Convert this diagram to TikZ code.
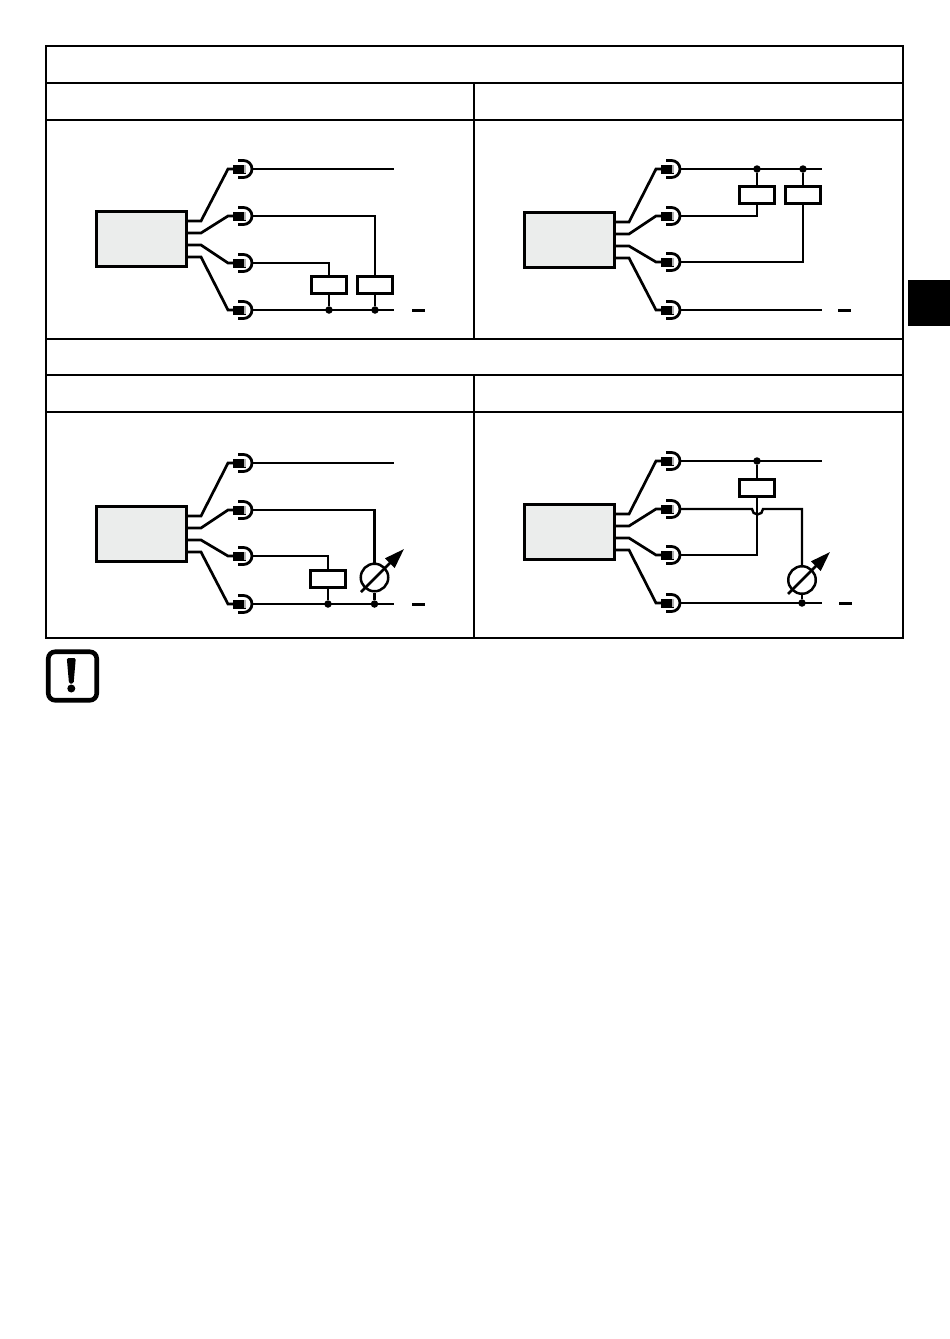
\documentclass[tikz,border=0pt]{standalone}
\usepackage{tikz}
\usetikzlibrary{positioning, arrows.meta}
\definecolor{boxgray}{HTML}{EBEDEC}

\begin{document}
\begin{tikzpicture}[x=1pt,y=-1pt,node distance=6pt,line join=miter]
    \tikzset{
        frame/.style={draw=black,line width=2.2pt},
        wire/.style={draw=black,line width=2.4pt},
        lead/.style={draw=black,line width=2.7pt},
        cup/.style={draw=black,line width=2.8pt},
        sensor/.style={draw=black,fill=boxgray,line width=3.3pt,minimum width=90pt,minimum height=54.5pt,inner sep=0pt},
        plug/.style={fill=black,minimum width=13pt,minimum height=9pt,inner sep=0pt},
        relay/.style={draw=black,fill=white,line width=3pt,minimum width=35pt,minimum height=17pt,inner sep=0pt},
        meter/.style={draw=black,fill=white,circle,line width=2.5pt,minimum size=27.5pt,inner sep=0pt},
        dot/.style={fill=black,circle,minimum size=7.5pt,inner sep=0pt},
        minus/.style={fill=black,minimum width=13pt,minimum height=3pt,inner sep=0pt},
        needle/.style={draw=black,line width=2.5pt,-{Triangle[length=20pt,width=13pt]}}
    }
    \useasboundingbox (0,0) rectangle (950,1339);

    % table and side tab
    \draw[frame] (46,46) rectangle (903,638);
    \draw[frame] (46,83) -- (903,83) (46,120) -- (903,120) (46,339) -- (903,339)
        (46,375) -- (903,375) (46,412) -- (903,412)
        (474,83) -- (474,339) (474,375) -- (474,638);
    \fill[black] (908,280) rectangle (950,326);

    % sensor, leads and plugs of each panel
    \foreach \pn/\sx/\by/\ya/\yb/\yc/\yd in {p1/96/211/169/216/263/310,p2/524/212/169/216/262/310,
            p3/96/506/463/510/556/604,p4/524/504/461/509/555/603}{
        \node[sensor] (\pn-box) at (\sx+45.5,\by+28) {};
        \foreach \i/\off/\py in {a/10/\ya,b/22/\yb,c/34/\yc,d/46/\yd}{
            \node[plug] (\pn-\i) at (\sx+143.5,\py) {};
            \fill[gray!60] (\sx+148,\py-4) rectangle (\sx+150,\py+4);
            \coordinate[right=of \pn-\i] (\pn-\i-out);
            \coordinate (\pn-\i-k) at (\sx+105,\by+\off);
            \coordinate (\pn-\i-j) at (\sx+132,\py);
            \draw[lead] (\pn-box.east |- \pn-\i-k) -- (\pn-\i-k) -- (\pn-\i-j) -- (\pn-\i);
            \draw[cup] (\sx+142,\py-8.5) -- (\sx+147.5,\py-8.5) arc[start angle=-90,end angle=90,radius=8.5] -- (\sx+142,\py+8.5);
        }
    }

    % panel 1
    \node[relay] (p1-r1) at (329,285) {};
    \node[relay] (p1-r2) at (375,285) {};
    \node[dot]   (p1-n1) at (329,310) {};
    \node[dot]   (p1-n2) at (375,310) {};
    \coordinate  (p1-e1) at (394,169);
    \coordinate  (p1-e2) at (394,310);
    \node[minus] (p1-m)  at (418,310) {};
    \draw[wire] (p1-a-out) -- (p1-e1);
    \draw[wire] (p1-d-out) -- (p1-e2);
    \draw[wire] (p1-b-out) -- (p1-b-out -| p1-r2) -- (p1-r2.north);
    \draw[wire] (p1-c-out) -- (p1-c-out -| p1-r1) -- (p1-r1.north);
    \draw[wire] (p1-r1.south) -- (p1-n1);
    \draw[wire] (p1-r2.south) -- (p1-n2);

    % panel 2
    \node[relay] (p2-r1) at (757,195) {};
    \node[relay] (p2-r2) at (803,195) {};
    \node[dot]   (p2-n1) at (757,169) {};
    \node[dot]   (p2-n2) at (803,169) {};
    \coordinate  (p2-e1) at (822,169);
    \coordinate  (p2-e2) at (822,310);
    \node[minus] (p2-m)  at (844.5,310) {};
    \draw[wire] (p2-a-out) -- (p2-e1);
    \draw[wire] (p2-d-out) -- (p2-e2);
    \draw[wire] (p2-n1) -- (p2-r1.north);
    \draw[wire] (p2-n2) -- (p2-r2.north);
    \draw[wire] (p2-r1.south) -- (p2-r1 |- p2-b-out) -- (p2-b-out);
    \draw[wire] (p2-r2.south) -- (p2-r2 |- p2-c-out) -- (p2-c-out);

    % panel 3
    \node[relay] (p3-r1) at (328,579) {};
    \node[meter] (p3-g)  at (374.5,577.5) {};
    \node[dot]   (p3-n1) at (328,604) {};
    \node[dot]   (p3-n2) at (374.5,604) {};
    \coordinate  (p3-e1) at (394,463);
    \coordinate  (p3-e2) at (394,604);
    \coordinate  (p3-t)  at (361,592);
    \coordinate  (p3-h)  at (404,549);
    \node[minus] (p3-m)  at (418,604) {};
    \draw[wire] (p3-a-out) -- (p3-e1);
    \draw[wire] (p3-d-out) -- (p3-e2);
    \draw[wire] (p3-b-out) -- (p3-b-out -| p3-g) -- (p3-g.north);
    \draw[wire] (p3-c-out) -- (p3-c-out -| p3-r1) -- (p3-r1.north);
    \draw[wire] (p3-r1.south) -- (p3-n1);
    \draw[wire] (p3-g.south) -- (p3-n2);
    \draw[needle] (p3-t) -- (p3-h);

    % panel 4
    \node[relay] (p4-r1) at (757,487.5) {};
    \node[meter] (p4-g)  at (802,580) {};
    \node[dot]   (p4-n1) at (757,461) {};
    \node[dot]   (p4-n2) at (802,603) {};
    \coordinate  (p4-e1) at (822,461);
    \coordinate  (p4-e2) at (822,603);
    \coordinate  (p4-hop) at (752,509);
    \coordinate  (p4-t)  at (788,594);
    \coordinate  (p4-h)  at (830,552);
    \node[minus] (p4-m)  at (845,603) {};
    \draw[wire] (p4-a-out) -- (p4-e1);
    \draw[wire] (p4-d-out) -- (p4-e2);
    \draw[wire] (p4-n1) -- (p4-r1.north);
    \draw[wire] (p4-r1.south) -- (p4-r1 |- p4-c-out) -- (p4-c-out);
    \draw[wire] (p4-b-out) -- (p4-hop) arc[start angle=180,end angle=0,radius=5.5] -- (p4-g |- p4-hop) -- (p4-g.north);
    \draw[wire] (p4-g.south) -- (p4-n2);
    \draw[needle] (p4-t) -- (p4-h);

    % warning sign
    \node[draw=black,line width=4.6pt,rounded corners=7pt,minimum size=48.5pt,inner sep=0pt] (warn) at (72.5,676) {};
    \fill[black,rounded corners=1.5pt] (66.8,658) -- (75.8,658) -- (73.6,683.5) -- (69,683.5) -- cycle;
    \node[dot,minimum size=8pt] (warn-d) at (71.3,688.5) {};
\end{tikzpicture}
\end{document}
